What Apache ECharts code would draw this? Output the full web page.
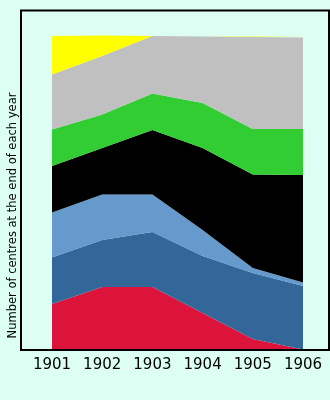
<!DOCTYPE html>
<html>
<head>
<meta charset="utf-8">
<script src="https://cdn.jsdelivr.net/npm/echarts@6/dist/echarts.min.js"></script>
<style>
html,body{margin:0;padding:0;background:#ddfff3;}
#chart{width:330px;height:400px;}
</style>
</head>
<body>
<div id="chart"></div>
<script>
var years = ['1901', '1902', '1903', '1904', '1905', '1906'];
var redValues = [46, 63, 63, 37, 11, 0.5];
var darkBlueValues = [46.5, 47, 55, 57, 66, 63.5];
var lightBlueValues = [45, 45.5, 37.5, 26, 5, 3.5];
var blackValues = [46.5, 46.5, 64.5, 82, 93.5, 107.5];
var greenValues = [36.5, 33.5, 36.5, 45, 45.5, 46];
var greyValues = [55, 58.5, 57.5, 66.5, 92, 91.5];
var yellowValues = [38.5, 20.5, 0, 0, 0.5, 0.5];
var yTitle = 'Number of centres at the end of each year';

var layers = [
  {name: 'Red', data: redValues, color: '#dc143c'},
  {name: 'Dark blue', data: darkBlueValues, color: '#336699'},
  {name: 'Light blue', data: lightBlueValues, color: '#6699cc'},
  {name: 'Black', data: blackValues, color: '#000000'},
  {name: 'Green', data: greenValues, color: '#32cd32'},
  {name: 'Grey', data: greyValues, color: '#c0c0c0'},
  {name: 'Yellow', data: yellowValues, color: '#ffff00'}
];

var chart = echarts.init(document.getElementById('chart'), null, {renderer: 'canvas'});
chart.setOption({
  backgroundColor: '#ddfff3',
  animation: false,
  grid: {left: 52, right: 27, top: 10, bottom: 50, containLabel: false},
  xAxis: {
    type: 'category',
    data: years,
    boundaryGap: false,
    axisLine: {show: false},
    axisTick: {show: false},
    splitLine: {show: false},
    axisLabel: {fontFamily: 'DejaVu Sans', fontSize: 15, color: '#000', margin: 8}
  },
  yAxis: {
    type: 'value',
    min: 0,
    max: 340,
    show: false,
    splitLine: {show: false}
  },
  graphic: [
    {
      type: 'rect',
      shape: {x: 21, y: 10.5, width: 308, height: 339.5},
      style: {fill: null, stroke: '#000', lineWidth: 2},
      z: 100
    },
    {
      type: 'text',
      x: 13.5,
      y: 215.5,
      rotation: Math.PI / 2,
      style: {
        text: yTitle,
        fontFamily: 'DejaVu Sans',
        fontSize: 11.5,
        fill: '#000',
        textAlign: 'center',
        textVerticalAlign: 'middle'
      }
    }
  ],
  series: layers.map(function (l) {
    return {
      name: l.name,
      type: 'line',
      stack: 'total',
      data: l.data,
      showSymbol: false,
      symbol: 'none',
      lineStyle: {width: 0, opacity: 0},
      areaStyle: {color: l.color, opacity: 1},
      itemStyle: {color: l.color}
    };
  })
});
</script>
</body>
</html>
